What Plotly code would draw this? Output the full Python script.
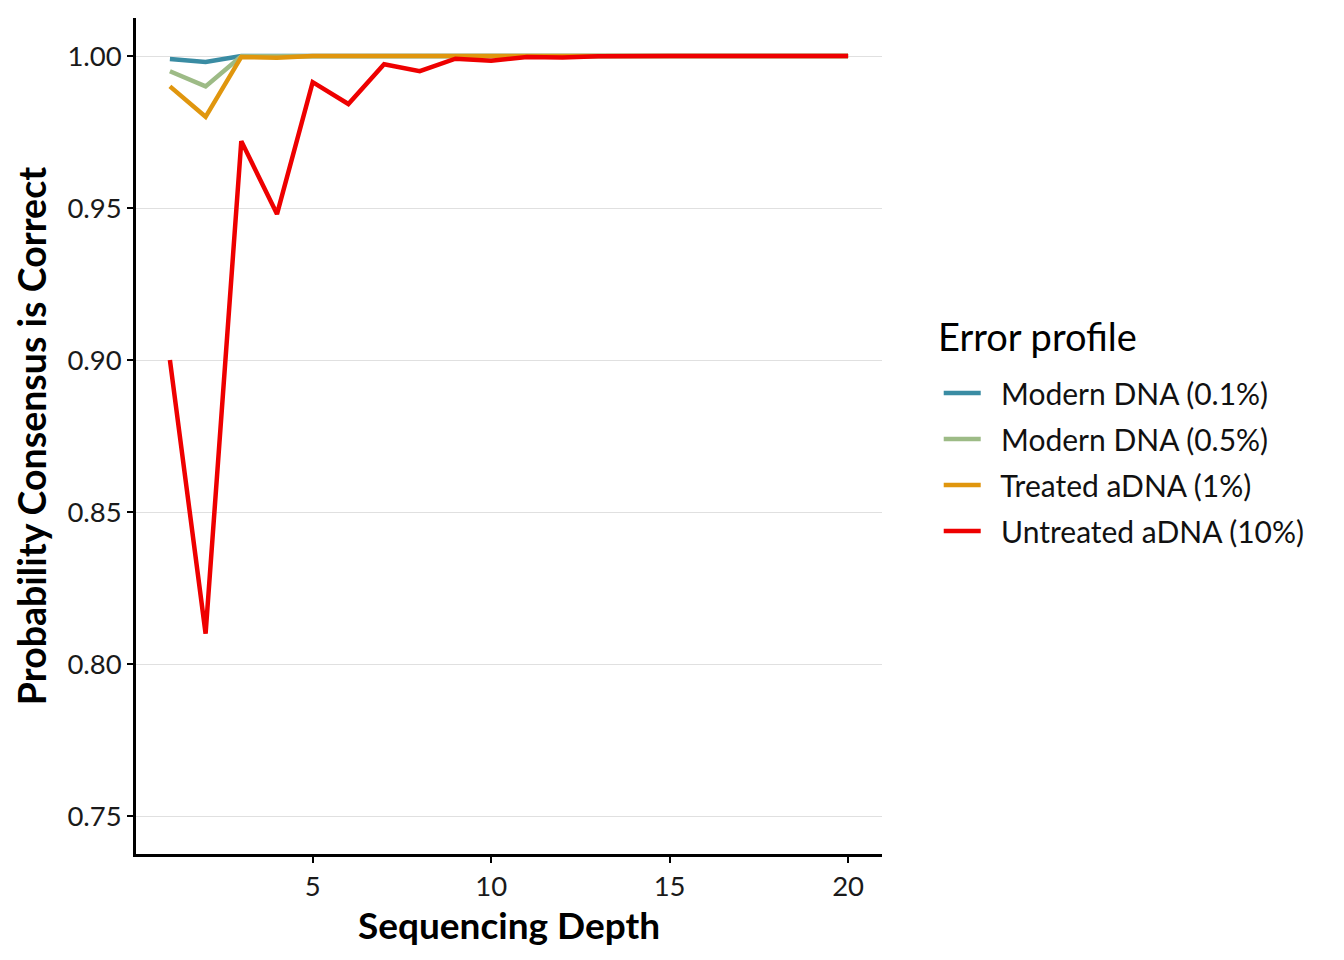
import plotly.graph_objects as go

depth = list(range(1, 21))
modern_01 = [0.999, 0.998, 1.0, 1.0, 1.0, 1.0, 1.0, 1.0, 1.0, 1.0, 1.0, 1.0, 1.0, 1.0, 1.0, 1.0, 1.0, 1.0, 1.0, 1.0]
modern_05 = [0.995, 0.990, 0.99993, 0.9999, 1.0, 1.0, 1.0, 1.0, 1.0, 1.0, 1.0, 1.0, 1.0, 1.0, 1.0, 1.0, 1.0, 1.0, 1.0, 1.0]
treated_1 = [0.990, 0.980, 0.9997, 0.9994, 1.0, 1.0, 1.0, 1.0, 1.0, 1.0, 1.0, 1.0, 1.0, 1.0, 1.0, 1.0, 1.0, 1.0, 1.0, 1.0]
untreated_10 = [0.900, 0.810, 0.972, 0.948, 0.9914, 0.9842, 0.9973, 0.9950, 0.9991, 0.9984,
                0.9997, 0.9995, 0.9999, 0.9998, 1.0, 1.0, 1.0, 1.0, 1.0, 1.0]

names = ["Modern DNA (0.1%)", "Modern DNA (0.5%)", "Treated aDNA (1%)", "Untreated aDNA (10%)"]
series = [modern_01, modern_05, treated_1, untreated_10]
colors = ["#3A8CA3", "#9DBB86", "#E0960E", "#EE0000"]
legend_title = "Error profile"

font = "Lato, 'Open Sans', sans-serif"
fig = go.Figure()
for i, (n, s, c) in enumerate(zip(names, series, colors)):
    fig.add_trace(go.Scatter(x=depth, y=s, mode="lines", name="\u00a0\u00a0" + n, legendgroup=str(i),
                             line=dict(color=c, width=4.5)))

fig.update_layout(
    width=1344, height=960,
    paper_bgcolor="white", plot_bgcolor="white",
    margin=dict(l=128, r=470, t=10, b=114),
    font=dict(family=font, size=27, color="black"),
    showlegend=True,
    legend=dict(
        xref="container", yref="container",
        x=0.6925, y=0.527, xanchor="left", yanchor="middle",
        font=dict(size=30, family=font, color="#111"),
        tracegroupgap=4,
        itemwidth=37,
    ),
    annotations=[dict(
        text=legend_title, xref="paper", yref="paper",
        x=1.0724, y=0.6196, xanchor="left", yanchor="middle",
        showarrow=False, font=dict(size=38, family=font, color="black"),
    )],
)
fig.update_xaxes(
    range=[0.05, 20.95], tickvals=[5, 10, 15, 20],
    showline=True, linecolor="black", linewidth=2.5,
    ticks="outside", ticklen=6, tickcolor="black", tickwidth=2,
    showgrid=False, zeroline=False,
    tickfont=dict(size=27.5, color="#1A1A1A"),
    title=dict(text="<b>Sequencing Depth</b>", font=dict(size=37), standoff=0),
)
fig.update_yaxes(
    range=[0.7375, 1.0125], tickvals=[0.75, 0.80, 0.85, 0.90, 0.95, 1.00],
    tickformat=".2f",
    showline=True, linecolor="black", linewidth=2.5,
    ticks="outside", ticklen=6, tickcolor="black", tickwidth=2,
    showgrid=True, gridcolor="#E0E0E0", gridwidth=1.3, zeroline=False,
    tickfont=dict(size=27.5, color="#1A1A1A"),
    title=dict(text="<b>Probability Consensus is Correct</b>", font=dict(size=37.5), standoff=10),
)

fig.write_html("out.html")
